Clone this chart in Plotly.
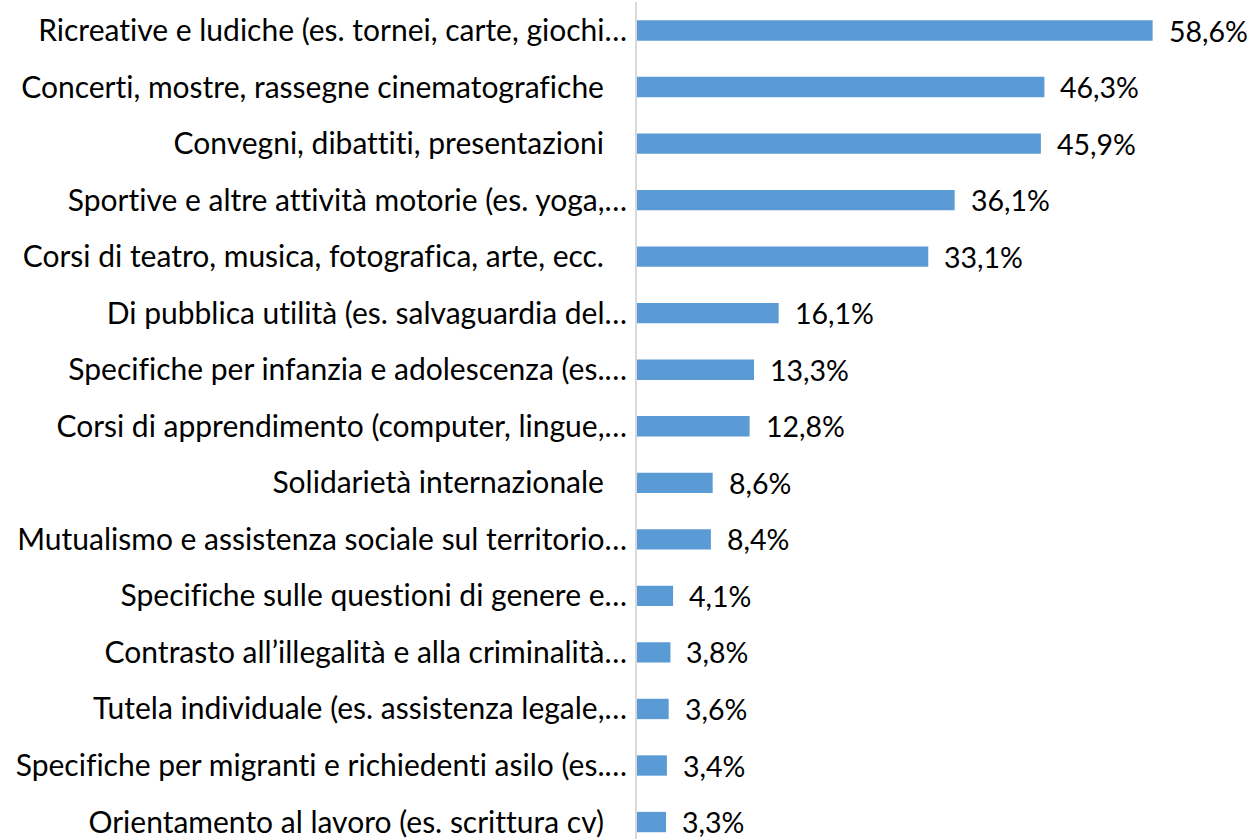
import plotly.graph_objects as go

categories = [
    "Ricreative e ludiche (es. tornei, carte, giochi…",
    "Concerti, mostre, rassegne cinematografiche\u00a0\u00a0\u00a0",
    "Convegni, dibattiti, presentazioni\u00a0\u00a0\u00a0",
    "Sportive e altre attività motorie (es. yoga,…",
    "Corsi di teatro, musica, fotografica, arte, ecc.\u00a0\u00a0\u00a0",
    "Di pubblica utilità (es. salvaguardia del…",
    "Specifiche per infanzia e adolescenza (es.…",
    "Corsi di apprendimento (computer, lingue,…",
    "Solidarietà internazionale\u00a0\u00a0\u00a0",
    "Mutualismo e assistenza sociale sul territorio…",
    "Specifiche sulle questioni di genere e…",
    "Contrasto all’illegalità e alla criminalità…",
    "Tutela individuale (es. assistenza legale,…",
    "Specifiche per migranti e richiedenti asilo (es.…",
    "Orientamento al lavoro (es. scrittura cv)\u00a0\u00a0\u00a0",
]
values = [58.6, 46.3, 45.9, 36.1, 33.1, 16.1, 13.3, 12.8, 8.6, 8.4, 4.1, 3.8, 3.6, 3.4, 3.3]
value_labels = [f"{v:.1f}%".replace(".", ",") for v in values]

FONT = "Lato"
FS = 30
FS_VAL = 28.5

fig = go.Figure(
    go.Bar(
        x=values,
        y=categories,
        orientation="h",
        marker=dict(color="#5B9BD5", line=dict(width=0)),
        hoverinfo="skip",
    )
)

for v, c, t in zip(values, categories, value_labels):
    fig.add_annotation(
        x=v, y=c, text=t, showarrow=False,
        xanchor="left", yanchor="middle", xshift=14,
        font=dict(family=FONT, size=FS_VAL, color="#000000"),
    )

fig.update_layout(
    width=1254, height=839,
    margin=dict(l=637, r=0, t=2, b=0),
    paper_bgcolor="white", plot_bgcolor="white",
    bargap=0.64,
    showlegend=False,
    font=dict(family=FONT, size=FS, color="#000000"),
    xaxis=dict(range=[0, 70.12], visible=False, fixedrange=True),
    yaxis=dict(
        type="category",
        categoryorder="array", categoryarray=categories,
        range=[14.30, -0.504],
        showline=True, linecolor="#D9D9D9", linewidth=2,
        ticks="", showgrid=False, zeroline=False,
        ticklabelstandoff=2,
        tickfont=dict(family=FONT, size=FS, color="#000000"),
        automargin=False,
        fixedrange=True,
    ),
)

fig.write_html(
    "out.html",
    config={"displayModeBar": False, "staticPlot": True},
    post_script=(
        "document.body.style.margin='0';document.body.style.overflow='hidden';"
        "document.head.insertAdjacentHTML('beforeend',"
        "'<style>text{font-variant-ligatures:none;font-feature-settings:\"liga\" 0;}</style>');"
    ),
)
